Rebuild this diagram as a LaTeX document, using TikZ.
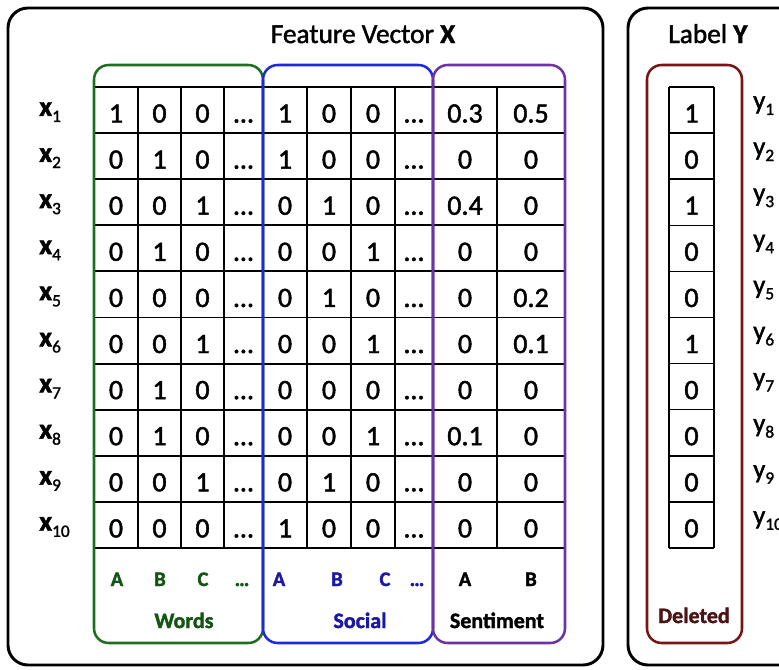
\documentclass[tikz,border=0pt]{standalone}
\usepackage{fontspec}
\setmainfont{Carlito}[FakeBold=1.6]
\usetikzlibrary{positioning}

\definecolor{wordsgreen}{RGB}{30,110,30}
\definecolor{wordstext}{RGB}{20,85,20}
\definecolor{socialblue}{RGB}{30,40,225}
\definecolor{socialtext}{RGB}{25,25,165}
\definecolor{sentpurple}{RGB}{110,50,165}
\definecolor{delred}{RGB}{120,20,20}
\definecolor{deltext}{RGB}{75,20,20}

% letter with a small lowered index
\newcommand{\idx}[2]{#1\raisebox{-0.45ex}{\fontsize{13}{13}\selectfont\mdseries #2}}

\begin{document}
\begin{tikzpicture}[
    x=0.75pt, y=-0.75pt,
    frame/.style={draw=black, line width=2.2pt, rounded corners=15pt},
    group/.style={line width=1.9pt, rounded corners=11pt},
    grid/.style={line width=1.4pt},
    cell/.style={font=\fontsize{21}{21}\selectfont, inner sep=0pt, anchor=base},
    rowtag/.style={font=\fontsize{21}{21}\selectfont\bfseries, inner sep=0pt, anchor=base west},
    coltag/.style={font=\fontsize{15.5}{15.5}\selectfont\bfseries, inner sep=0pt, anchor=base},
    grptag/.style={font=\fontsize{16.5}{16.5}\selectfont\bfseries, inner sep=0pt, anchor=base},
    title/.style={font=\fontsize{20.5}{20.5}\selectfont, inner sep=0pt, anchor=base}
]
    \clip (0,0) rectangle (779,669);

    % Outer frames
    \draw[frame] (8,8) rectangle (603,665);
    \draw[frame] (628,8) rectangle (810,665);

    \node[title] (xtitle) at (363,43) {Feature Vector \textbf{X}};
    \node[title] (ytitle) at (708,43) {Label \textbf{Y}};

    % Row and column positions
    \foreach \i in {1,...,10}
        \coordinate (row\i) at (0,{87+46.1*(\i-1)+35.5});
    \foreach \x [count=\c] in {116,159.5,202.5,243.5,285,329,373,414,465,531}
        \coordinate (col\c) at (\x,0);

    % Grid of feature values
    \foreach \i in {0,...,10}
        \draw[grid] (94,{87+46.1*\i}) -- (565,{87+46.1*\i});
    \foreach \x in {138,181,224,263,307,351,395,433,497}
        \draw[grid] (\x,87) -- (\x,548);

    \foreach \vals [count=\r] in {
        {1,0,0,\ldots,1,0,0,\ldots,0.3,0.5},
        {0,1,0,\ldots,1,0,0,\ldots,0,0},
        {0,0,1,\ldots,0,1,0,\ldots,0.4,0},
        {0,1,0,\ldots,0,0,1,\ldots,0,0},
        {0,0,0,\ldots,0,1,0,\ldots,0,0.2},
        {0,0,1,\ldots,0,0,1,\ldots,0,0.1},
        {0,1,0,\ldots,0,0,0,\ldots,0,0},
        {0,1,0,\ldots,0,0,1,\ldots,0.1,0},
        {0,0,1,\ldots,0,1,0,\ldots,0,0},
        {0,0,0,\ldots,1,0,0,\ldots,0,0}}{
        \foreach \v [count=\c] in \vals
            \node[cell] (c\r-\c) at (col\c |- row\r) {\v};
        \node[rowtag] (x\r) at ([yshift=5]39,0 |- row\r) {\idx{x}{\r}};
    }

    % Label column
    \foreach \v [count=\r] in {1,0,1,0,0,1,0,0,0,0}{
        \node[cell] (l\r) at (691.5,0 |- row\r) {\v};
        \node[rowtag, font=\fontsize{20}{20}\selectfont] (y\r) at ([yshift=10]753,0 |- row\r) {\idx{y}{\r}};
    }
    \foreach \i in {0,...,10}
        \draw[line width=1.1pt] (669,{87+46.1*\i}) -- (714,{87+46.1*\i});
    \draw[line width=1.1pt] (669,87) -- (669,548) (714,87) -- (714,548);

    % Column tags under the grid
    \foreach \x/\t [count=\k] in {117/A,160/B,203/C,242/\ldots}
        \node[coltag, text=wordstext] (wt\k) at (\x,586) {\t};
    \foreach \x/\t [count=\k] in {279/A,337/B,385/C,417/\ldots}
        \node[coltag, text=socialtext] (st\k) at (\x,586) {\t};
    \foreach \x/\t [count=\k] in {465/A,531/B}
        \node[coltag] (mt\k) at (\x,586) {\t};

    \node[grptag, text=wordstext] (words) at (184,628) {Words};
    \node[grptag, text=socialtext] (social) at (360,628) {Social};
    \node[grptag] (sentiment) at (497,628) {Sentiment};
    \node[grptag, text=deltext] (deleted) at (694,623) {Deleted};

    % Group frames
    \draw[group, draw=wordsgreen] (94,65) rectangle (263,643);
    \draw[group, draw=socialblue] (263,65) rectangle (433,643);
    \draw[group, draw=sentpurple] (433,65) rectangle (565,643);
    \draw[group, draw=delred] (647,65) rectangle (742,643);

\end{tikzpicture}
\end{document}
